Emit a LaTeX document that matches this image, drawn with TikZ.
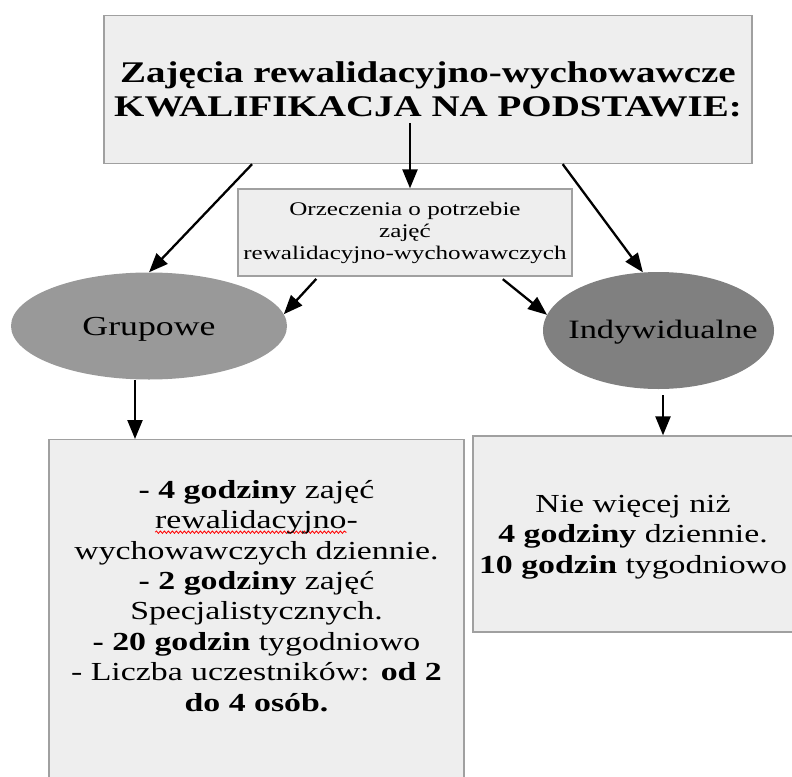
\documentclass[tikz,border=0pt]{standalone}
\usepackage{fontspec}
\setmainfont{Liberation Serif}[FakeStretch=1.3]
\usetikzlibrary{arrows.meta,shapes.geometric,decorations.pathmorphing}
\definecolor{boxfill}{HTML}{EEEEEE}
\definecolor{boxline}{HTML}{A0A0A0}
\definecolor{grupfill}{HTML}{999999}
\definecolor{indyfill}{HTML}{808080}
\newsavebox\wavebox
\newcommand\redwave[1]{\sbox\wavebox{#1}\rlap{\tikz[baseline=0pt,x=1pt,y=1pt]{\path (0,0);
  \draw[overlay, red, line width=0.8pt, decorate, decoration={snake, amplitude=1.2pt, segment length=4pt}]
  (0,-3.5) -- (\the\wd\wavebox,-3.5);}}\usebox\wavebox}
\begin{document}
\begin{tikzpicture}[x=1pt,y=-1pt,
  arr/.style={line width=2.3pt, -{Triangle[length=19pt,width=15pt]}},
  graybox/.style={rectangle, draw=boxline, line width=1.3pt, fill=boxfill, inner sep=0pt},
  blob/.style={ellipse, inner sep=0pt, draw=none},
  txt/.style={inner sep=0pt, align=center}]
\fill[white] (0,0) rectangle (792,776);
\useasboundingbox (0,0) rectangle (792,776);

\node[graybox, minimum width=648pt, minimum height=148pt, align=center,
      font=\fontsize{30}{33.5}\selectfont\bfseries] (top) at (428,89.5)
  {Zajęcia rewalidacyjno-wychowawcze\\KWALIFIKACJA NA PODSTAWIE:};

\node[graybox, minimum width=334pt, minimum height=87pt, align=center,
      font=\fontsize{19.3}{22}\selectfont] (mid) at (405,232.5)
  {Orzeczenia o potrzebie\\zajęć\\rewalidacyjno-wychowawczych};

\node[blob, fill=grupfill, minimum width=276pt, minimum height=107pt] (grup) at (149,326) {};
\node[txt, anchor=base, font=\fontsize{27.5}{30}\selectfont] (grupt) at (149,335) {Grupowe};

\node[blob, fill=indyfill, minimum width=231pt, minimum height=117pt] (indy) at (658.5,330.5) {};
\node[txt, anchor=base, font=\fontsize{26.5}{30}\selectfont] (indyt) at (663,338) {Indywidualne};

\node[graybox, minimum width=415pt, minimum height=360pt, anchor=north] (gbox) at (256.5,439) {};
\node[txt, anchor=north, font=\fontsize{26}{30.4}\selectfont] (gtxt) at (256.5,480)
  {\textbf{- 4 godziny} zajęć\\
   \redwave{rewalidacyjno}-\\
   wychowawczych dziennie.\\
   \textbf{- 2 godziny} zajęć\\
   Specjalistycznych.\\
   \textbf{- 20 godzin} tygodniowo\\
   - Liczba uczestników: \textbf{od 2}\\
   \textbf{do 4 osób.}};

\node[graybox, minimum width=320pt, minimum height=196pt] (rbox) at (633,534) {};
\node[txt, anchor=north, font=\fontsize{26}{30.4}\selectfont] (rtxt) at (633,495)
  {Nie więcej niż\\
   \textbf{4 godziny} dziennie.\\
   \textbf{10 godzin} tygodniowo};

\coordinate (tstart) at (410,123);
\draw[arr] (tstart) -- (tstart |- mid.north);
\draw[arr] (top.203.7) -- (grup.north);
\draw[arr] (top.-29.6) -- (indy.105);
\draw[arr, shorten <=3pt] (mid.207.9) -- (grup.5);
\draw[arr, shorten <=4pt] (mid.-25.3) -- (indy.172);
\coordinate (gdown) at (135,380);
\draw[arr] (gdown) -- (gdown |- gbox.north);
\coordinate (idown) at (663,395);
\draw[arr] (idown) -- (idown |- rbox.north);
\end{tikzpicture}
\end{document}
